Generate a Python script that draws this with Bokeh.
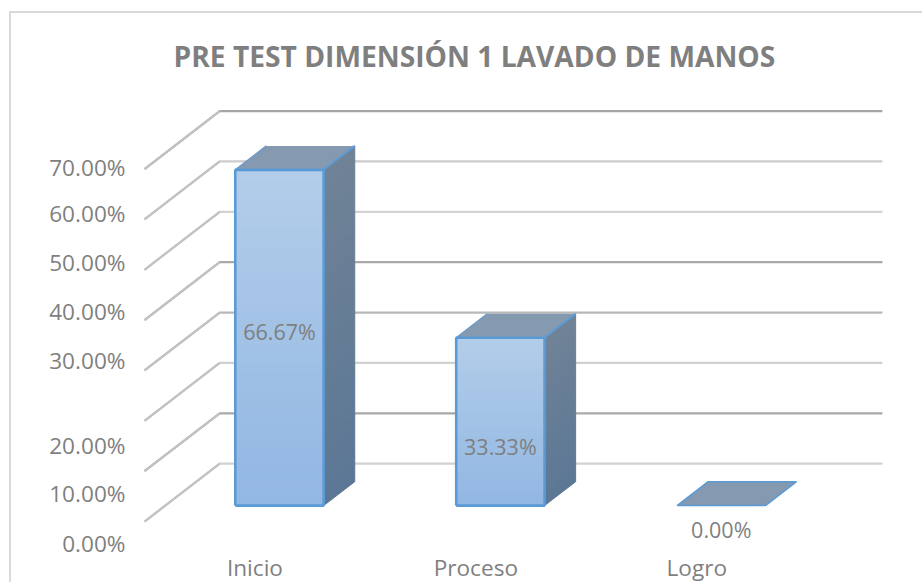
import numpy as np
from bokeh.embed import file_html
from bokeh.models import ColumnDataSource, FixedTicker, LinearAxis, Range1d, Title
from bokeh.plotting import figure
from bokeh.resources import INLINE
from bokeh.core.properties import value

CATEGORIES = ["Inicio", "Proceso", "Logro"]
VALUES = [66.67, 33.33, 0.00]
BAR_LABELS = ["66.67%", "33.33%", "0.00%"]
BAR_LABEL_Y = [37.8, 14.85, -1.6]
GRID_VALUES = [0, 10, 20, 30, 40, 50, 60, 70]
GRID_COLORS = ["#d2d2d2", "#a9a9a9", "#d0d0d0", "#b8b8b8", "#a9a9a9", "#d2d2d2", "#cccccc", "#a6a6a6"]
TICK_LABELS = ["0.00%", "10.00%", "20.00%", "30.00%", "40.00%", "50.00%", "60.00%", "70.00%"]
TICK_LABEL_POS = [-4.35, 5.5, 15.2, 32.0, 41.7, 51.4, 61.1, 70.4]

FONT = "Open Sans"
TEXT = "#7f7f7f"
EDGE = "#5b9bd5"
WALL_DX, WALL_DY = 0.3404, 11.5
FRONT_DX, FRONT_DY = 0.111, 3.17
DEPTH_DX, DEPTH_DY = 0.1407, 4.75
BAR_W = 0.4

p = figure(width=913, height=572, output_backend="svg", toolbar_location=None,
           x_range=Range1d(-0.0272, 3.531), y_range=Range1d(-7.33, 84.4),
           min_border_left=127, min_border_right=0, min_border_top=83, min_border_bottom=12,
           outline_line_color=None, x_axis_type=None, y_axis_type=None,
           margin=(11, 0, -10, 9))
p.styles = {"border-left": "2px solid #d9d9d9", "border-top": "2px solid #d9d9d9"}
p.grid.visible = False

p.multi_line(
    xs=[[0, WALL_DX, 3 + WALL_DX] for _ in GRID_VALUES],
    ys=[[v, v + WALL_DY, v + WALL_DY] for v in GRID_VALUES],
    line_color=GRID_COLORS, line_width=2.2)
p.multi_line(
    xs=[[0, WALL_DX] for _ in GRID_VALUES],
    ys=[[v, v + WALL_DY] for v in GRID_VALUES],
    line_color="#c2c2c2", line_width=2.2)


def lerp(a, b, t):
    ca = [int(a[i:i + 2], 16) for i in (1, 3, 5)]
    cb = [int(b[i:i + 2], 16) for i in (1, 3, 5)]
    return "#%02x%02x%02x" % tuple(int(round(x + (y - x) * t)) for x, y in zip(ca, cb))


for i, v in enumerate(VALUES):
    l = i + 0.5 - BAR_W / 2 + FRONT_DX
    r = l + BAR_W
    y0 = FRONT_DY
    y1 = y0 + v
    if v > 0:
        n = 40
        edges = np.linspace(y0, y1, n + 1)
        for k in range(n):
            t = k / (n - 1)
            c = lerp("#92b7e3", "#b2cde9", t)
            p.quad(left=l, right=r, bottom=edges[k], top=edges[k + 1], line_color=c, line_width=1, fill_color=c)
            c2 = lerp("#5c7795", "#6f8296", t)
            p.patch([r, r + DEPTH_DX, r + DEPTH_DX, r],
                    [edges[k], edges[k] + DEPTH_DY, edges[k + 1] + DEPTH_DY, edges[k + 1]],
                    line_color=c2, line_width=1, fill_color=c2)
    p.patch([l, r, r + DEPTH_DX, l + DEPTH_DX],
            [y1, y1, y1 + DEPTH_DY, y1 + DEPTH_DY],
            fill_color="#8599b1", line_color=EDGE if v == 0 else None, line_width=1.5)
    if v > 0:
        p.line([l, l + DEPTH_DX], [y1, y1 + DEPTH_DY], line_color="#6f9bc9", line_width=1.5)
        p.line([r, r + DEPTH_DX], [y1, y1 + DEPTH_DY], line_color=EDGE, line_width=2)
        p.line([l, r, r, l, l], [y0, y0, y1, y1, y0], line_color=EDGE, line_width=2.6)

src = ColumnDataSource(dict(x=[i + 0.5 + FRONT_DX for i in range(3)], y=BAR_LABEL_Y, t=BAR_LABELS))
p.text(x="x", y="y", text="t", source=src, text_align="center", text_baseline="middle",
       text_font=value(FONT), text_font_size="21.5px", text_color=TEXT)

ya = LinearAxis(ticker=FixedTicker(ticks=TICK_LABEL_POS),
                major_label_overrides={k: t for k, t in zip(TICK_LABEL_POS, TICK_LABELS)})
xa = LinearAxis(ticker=FixedTicker(ticks=[i + 0.5 for i in range(3)]),
                major_label_overrides={i + 0.5: c for i, c in enumerate(CATEGORIES)})
for a in (xa, ya):
    a.axis_line_color = None
    a.major_tick_line_color = None
    a.minor_tick_line_color = None
    a.major_label_text_font = FONT
    a.major_label_text_font_size = "22.6px"
    a.major_label_text_color = TEXT
ya.major_label_standoff = 7
xa.major_label_standoff = -13
p.add_layout(ya, "left")
p.add_layout(xa, "below")

title = Title(text="PRE TEST DIMENSIÓN 1 LAVADO DE MANOS", text_font=FONT, text_font_size="28.2px",
              text_font_style="bold", text_color=TEXT, align="left", offset=35, standoff=43)
p.add_layout(title, "above")

open("out.html", "w").write(file_html(p, INLINE))
